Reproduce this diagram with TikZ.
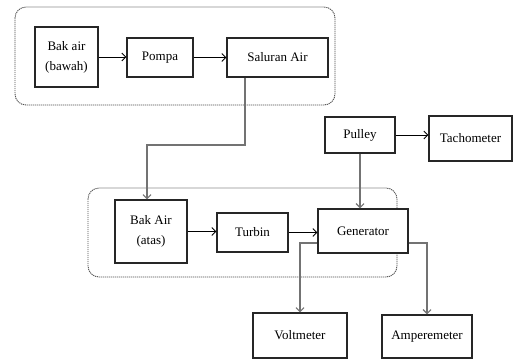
\documentclass[tikz,border=0pt]{standalone}
\usepackage{fontspec}
\setmainfont{Liberation Serif}
\usepackage{tikz}
\usetikzlibrary{arrows.meta}
\definecolor{ln_gray}{RGB}{115, 115, 115}
\definecolor{grp_gray}{RGB}{80, 80, 80}
\tikzstyle{box}=[rectangle,draw=black!85,fill=white,line width=1.1pt,
  inner sep=2pt,align=center,font=\fontsize{13}{20}\selectfont]
\tikzstyle{grp}=[draw=grp_gray,line width=0.9pt,rounded corners=11pt,
  dash pattern=on 1.2pt off 0.8pt]
\tikzstyle{arr}=[-{Straight Barb[length=4pt,width=8pt]},line width=0.9pt]
\tikzstyle{garr}=[arr,draw=ln_gray,line width=1.2pt]

\begin{document}
\begin{tikzpicture}[x=1pt, y=-1pt]
  \useasboundingbox (0, 0) rectangle (513, 361);
  % dashed groups
  \draw [style=grp] (15, 7) rectangle (335, 105);
  \draw [style=grp] (88, 188) rectangle (397, 277);
  \node [style=box, minimum width=63pt, minimum height=60pt] (0) at (66.5, 57) {Bak air\\(bawah)};
  \node [style=box, minimum width=66pt, minimum height=39pt] (1) at (160, 57.5) {Pompa};
  \node [style=box, minimum width=101pt, minimum height=39pt] (2) at (277.5, 57.5) {Saluran Air};
  \node [style=box, minimum width=70pt, minimum height=36pt] (3) at (360, 135) {Pulley};
  \node [style=box, minimum width=83pt, minimum height=45pt] (4) at (470.5, 138.5) {Tachometer};
  \node [style=box, minimum width=72pt, minimum height=63pt] (5) at (151, 231.5) {Bak Air\\(atas)};
  \node [style=box, minimum width=71pt, minimum height=39pt] (6) at (252.5, 232.5) {Turbin};
  \node [style=box, minimum width=90pt, minimum height=44pt] (7) at (363, 231) {Generator};
  \node [style=box, minimum width=94pt, minimum height=45pt] (8) at (300, 335.5) {Voltmeter};
  \node [style=box, minimum width=90pt, minimum height=43pt] (9) at (427, 336.5) {Amperemeter};
  \coordinate (10) at (245, 145);
  \coordinate (11) at (147, 145);
  \draw [style=arr] (0.east) to (0.east -| 1.west);
  \draw [style=arr] (1.east) to (1.east -| 2.west);
  \draw [style=garr] (2.south -| 10) to (10) to (11) to (5.north -| 11);
  \draw [style=arr] (3.east) to (3.east -| 4.west);
  \draw [style=garr] (3.south) to (3.south |- 7.north);
  \draw [style=arr] (5.east) to (5.east -| 6.west);
  \draw [style=arr] (6.east) to (6.east -| 7.west);
  \draw [style=garr] ([yshift=-12pt]7.west) -| (8.north);
  \draw [style=garr] ([yshift=-12pt]7.east) -| (9.north);
\end{tikzpicture}
\end{document}
